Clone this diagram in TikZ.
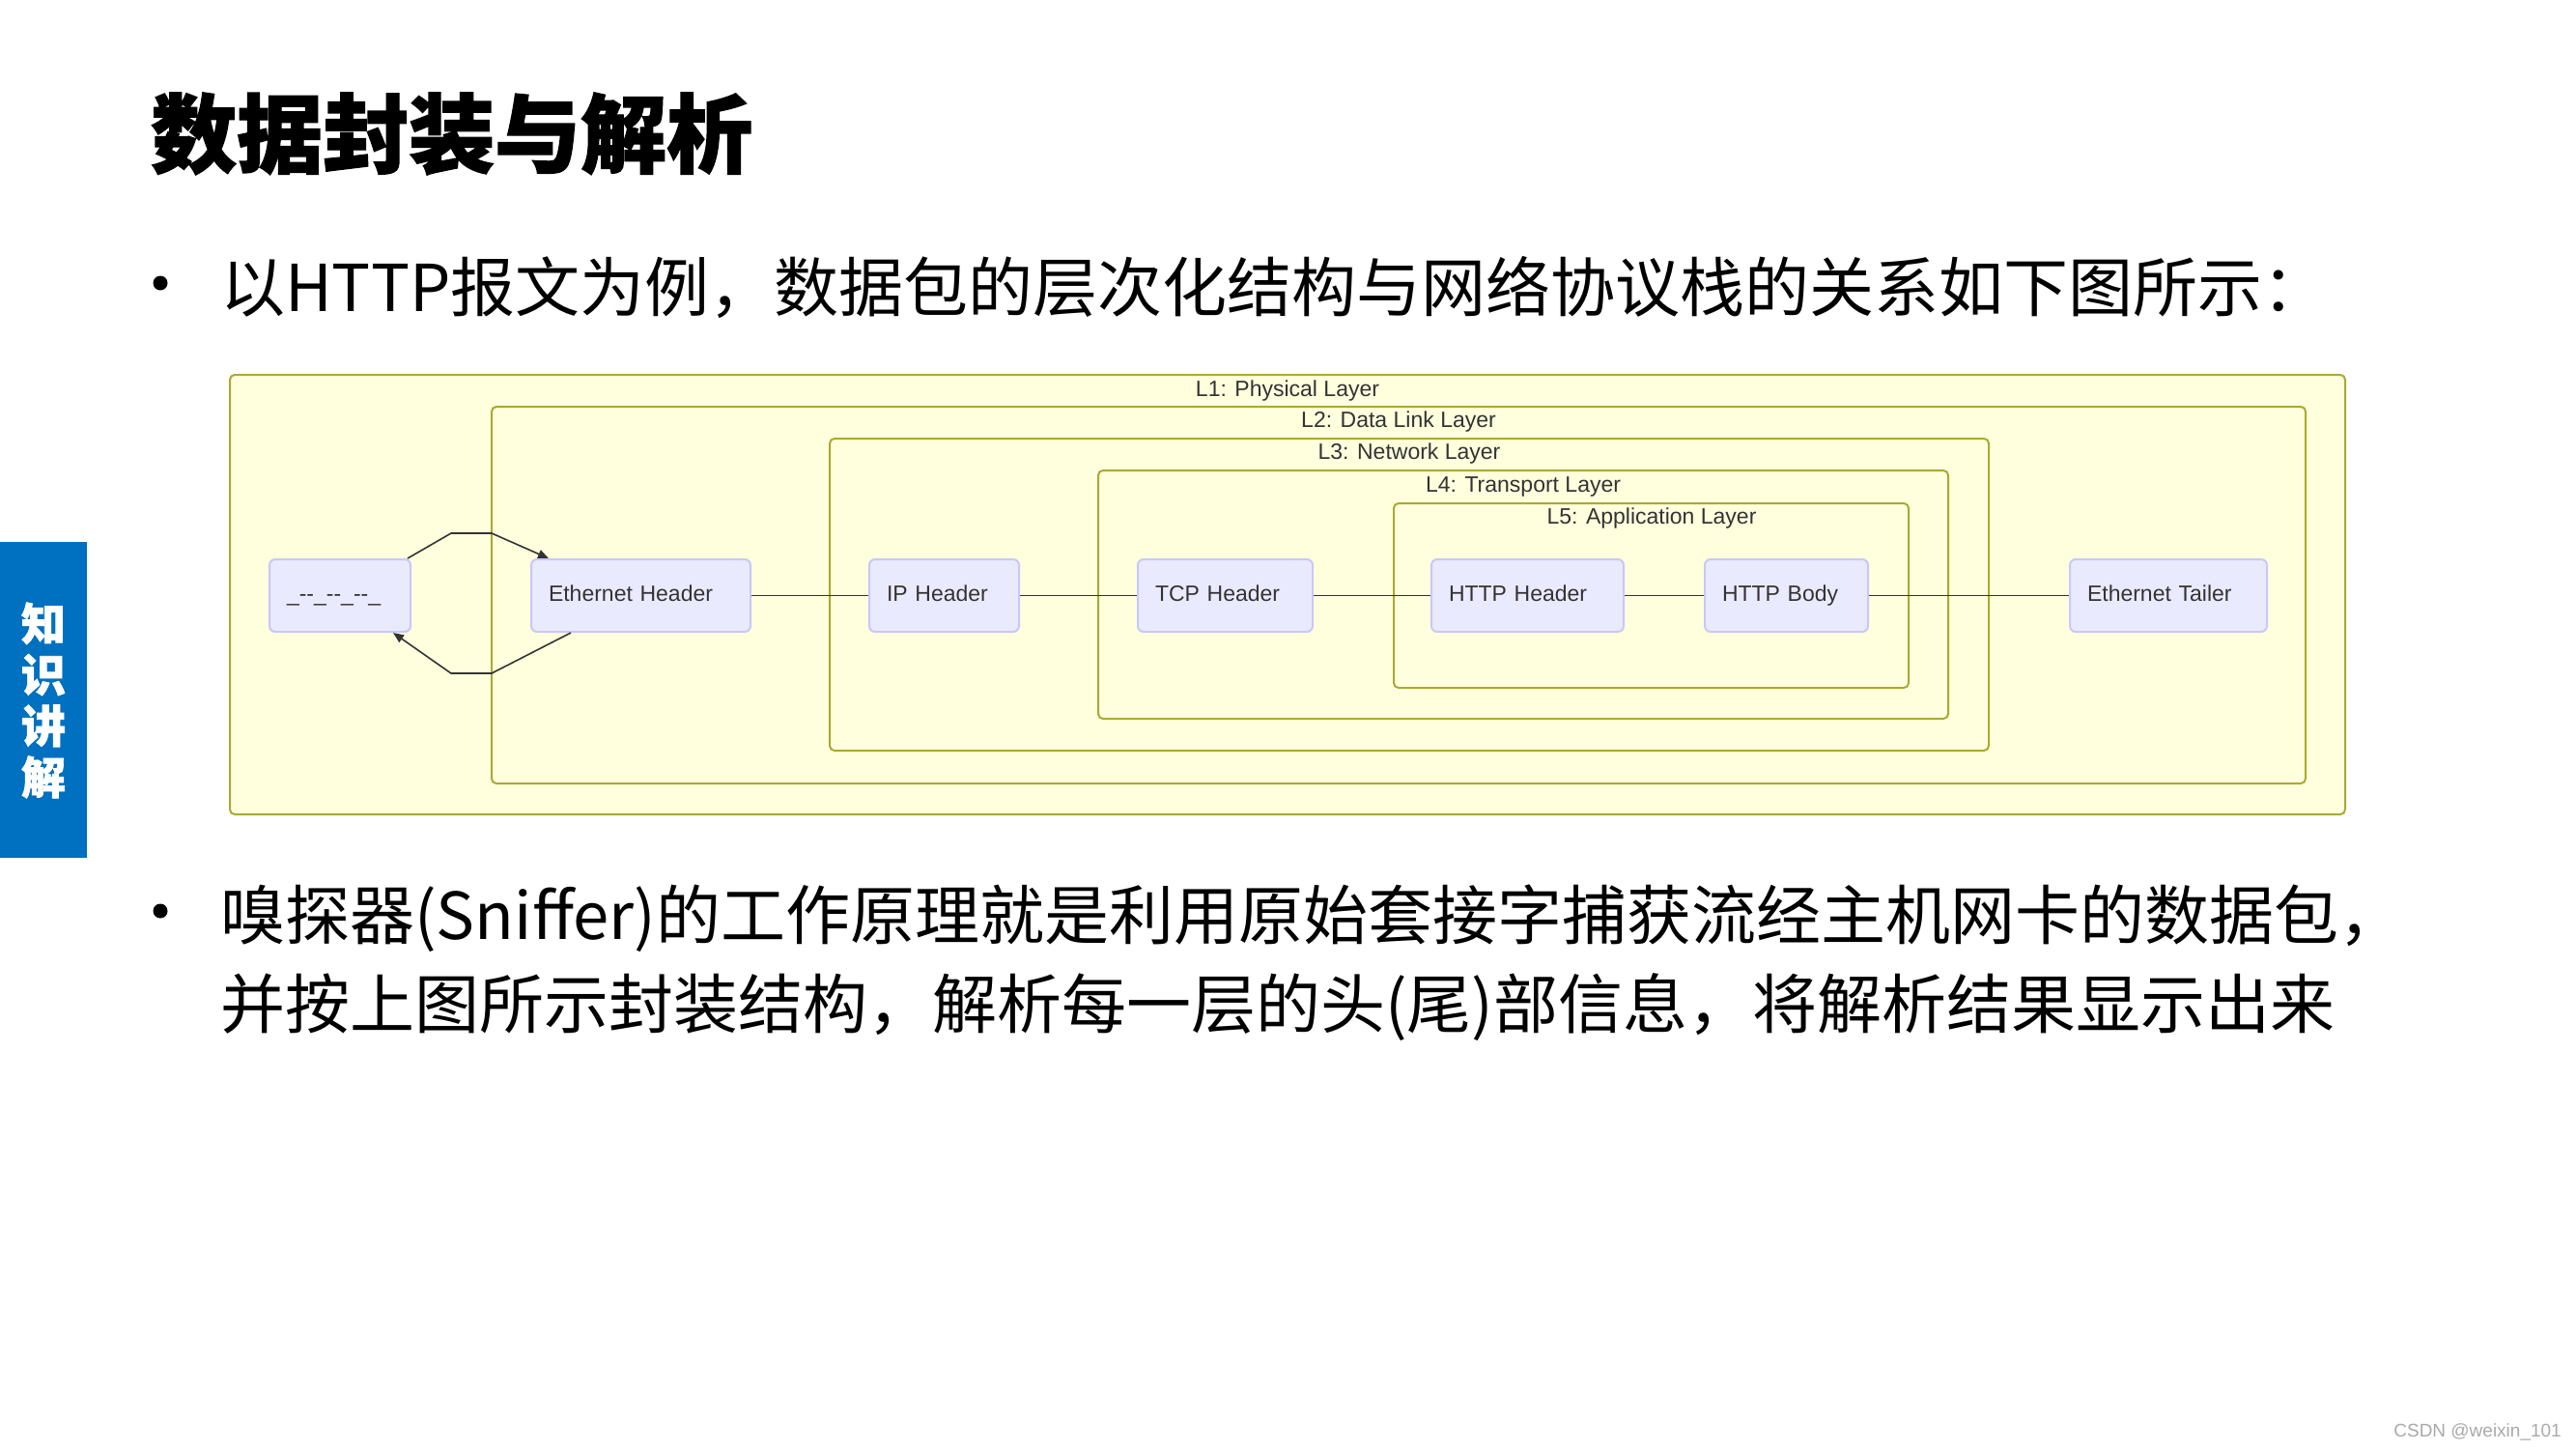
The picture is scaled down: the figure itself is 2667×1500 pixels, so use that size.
\documentclass[tikz,border=0pt]{standalone}
\usepackage{fontspec}
\setmainfont{Liberation Sans}
\newfontfamily\cjk{Noto Sans CJK SC}[BoldFeatures={FakeBold=1.5}]
\usetikzlibrary{arrows.meta,calc}
\definecolor{layfill}{HTML}{FFFFDE}
\definecolor{laydraw}{HTML}{AAAA33}
\definecolor{nodefill}{HTML}{EAEAFF}
\definecolor{nodedraw}{HTML}{C8C8F8}
\definecolor{edgecol}{HTML}{333333}
\definecolor{tabblue}{HTML}{0070C0}
\definecolor{wmgray}{HTML}{AAAAAA}
\begin{document}
\begin{tikzpicture}[x=1pt,y=-1pt,
  layer/.style={draw=laydraw, fill=layfill, line width=2pt, rounded corners=5pt},
  laylab/.style={font=\fontsize{23}{26}\selectfont, text=edgecol, inner sep=0pt},
  pkt/.style={draw=nodedraw, fill=nodefill, line width=2pt, rounded corners=6pt,
    minimum height=75pt, inner xsep=18pt, inner ysep=0pt, align=left,
    text height=17pt, text depth=5pt,
    font=\fontsize{23}{26}\selectfont, text=edgecol},
  link/.style={draw=edgecol, line width=1.6pt},
  arr/.style={link, -{Triangle[length=11pt,width=9pt]}},
  body/.style={font=\cjk\fontsize{67}{94}\selectfont, inner sep=0pt, anchor=base west},
  bul/.style={circle, fill=black, inner sep=0pt, minimum size=15pt},
]
\useasboundingbox (0,0) rectangle (2667,1500);
\fill[white] (0,0) rectangle (2667,1500);

% title
\node[anchor=base west, inner sep=0pt, font=\cjk\bfseries\fontsize{89}{89}\selectfont] (title) at (156,172) {数据封装与解析};

% side tab
\fill[tabblue] (0,561) rectangle (90,888);
\node[align=center, inner sep=0pt, text=white, font=\cjk\bfseries\fontsize{46}{53}\selectfont] (tab) at (45,725) {知\\识\\讲\\解};

% bullets
\node[bul] (b1) at (166,293) {};
\node[body] (t1) at (228,322) {以HTTP报文为例，数据包的层次化结构与网络协议栈的关系如下图所示：};
\node[bul] (b2) at (166,943) {};
\node[body] (t2) at (228,972) {嗅探器(Sniffer)的工作原理就是利用原始套接字捕获流经主机网卡的数据包，};
\node[body] (t3) at (228,1064) {并按上图所示封装结构，解析每一层的头(尾)部信息，将解析结果显示出来};

% layers
\draw[layer] (238,388) rectangle (2428,843);
\draw[layer] (509,421) rectangle (2387,811);
\draw[layer] (859,454) rectangle (2059,777);
\draw[layer] (1137,487) rectangle (2017,744);
\draw[layer] (1443,521) rectangle (1976,712);
\node[laylab] (l1) at (1333,405) {L1: Physical Layer};
\node[laylab] (l2) at (1448,437) {L2: Data Link Layer};
\node[laylab] (l3) at (1459,470) {L3: Network Layer};
\node[laylab] (l4) at (1577,504) {L4: Transport Layer};
\node[laylab] (l5) at (1710,537) {L5: Application Layer};

% packet nodes
\node[pkt, text width=110pt] (wire) at (352,616.5) {\_-{}-\_-{}-\_-{}-\_};
\node[pkt, text width=191pt] (eth) at (663.5,616.5) {Ethernet Header};
\node[pkt, text width=119pt] (ip) at (977.5,616.5) {IP Header};
\node[pkt, text width=145pt] (tcp) at (1268.5,616.5) {TCP Header};
\node[pkt, text width=163pt] (hh) at (1581.5,616.5) {HTTP Header};
\node[pkt, text width=133pt] (hb) at (1849.5,616.5) {HTTP Body};
\node[pkt, text width=168pt] (et) at (2245,616.5) {Ethernet Tailer};

% connectors
\draw[link] (eth) -- (ip);
\draw[link] (ip) -- (tcp);
\draw[link] (tcp) -- (hh);
\draw[link] (hh) -- (hb);
\draw[link] (hb) -- (et);
\coordinate (u1) at (467,552);
\coordinate (u2) at (509,552);
\coordinate (d1) at (509,697);
\coordinate (d2) at (467,697);
\draw[arr] ($(wire.north east)+(-4,0)$) -- (u1) -- (u2) -- ($(eth.north west)+(19,0)$);
\draw[arr] ($(eth.south west)+(42,0)$) -- (d1) -- (d2) -- ($(wire.south east)+(-19,0)$);

% watermark
\node[anchor=east, inner sep=0pt, text=wmgray, font=\fontsize{19}{22}\selectfont] (wm) at (2652,1482) {CSDN @weixin\_101};
\end{tikzpicture}
\end{document}
